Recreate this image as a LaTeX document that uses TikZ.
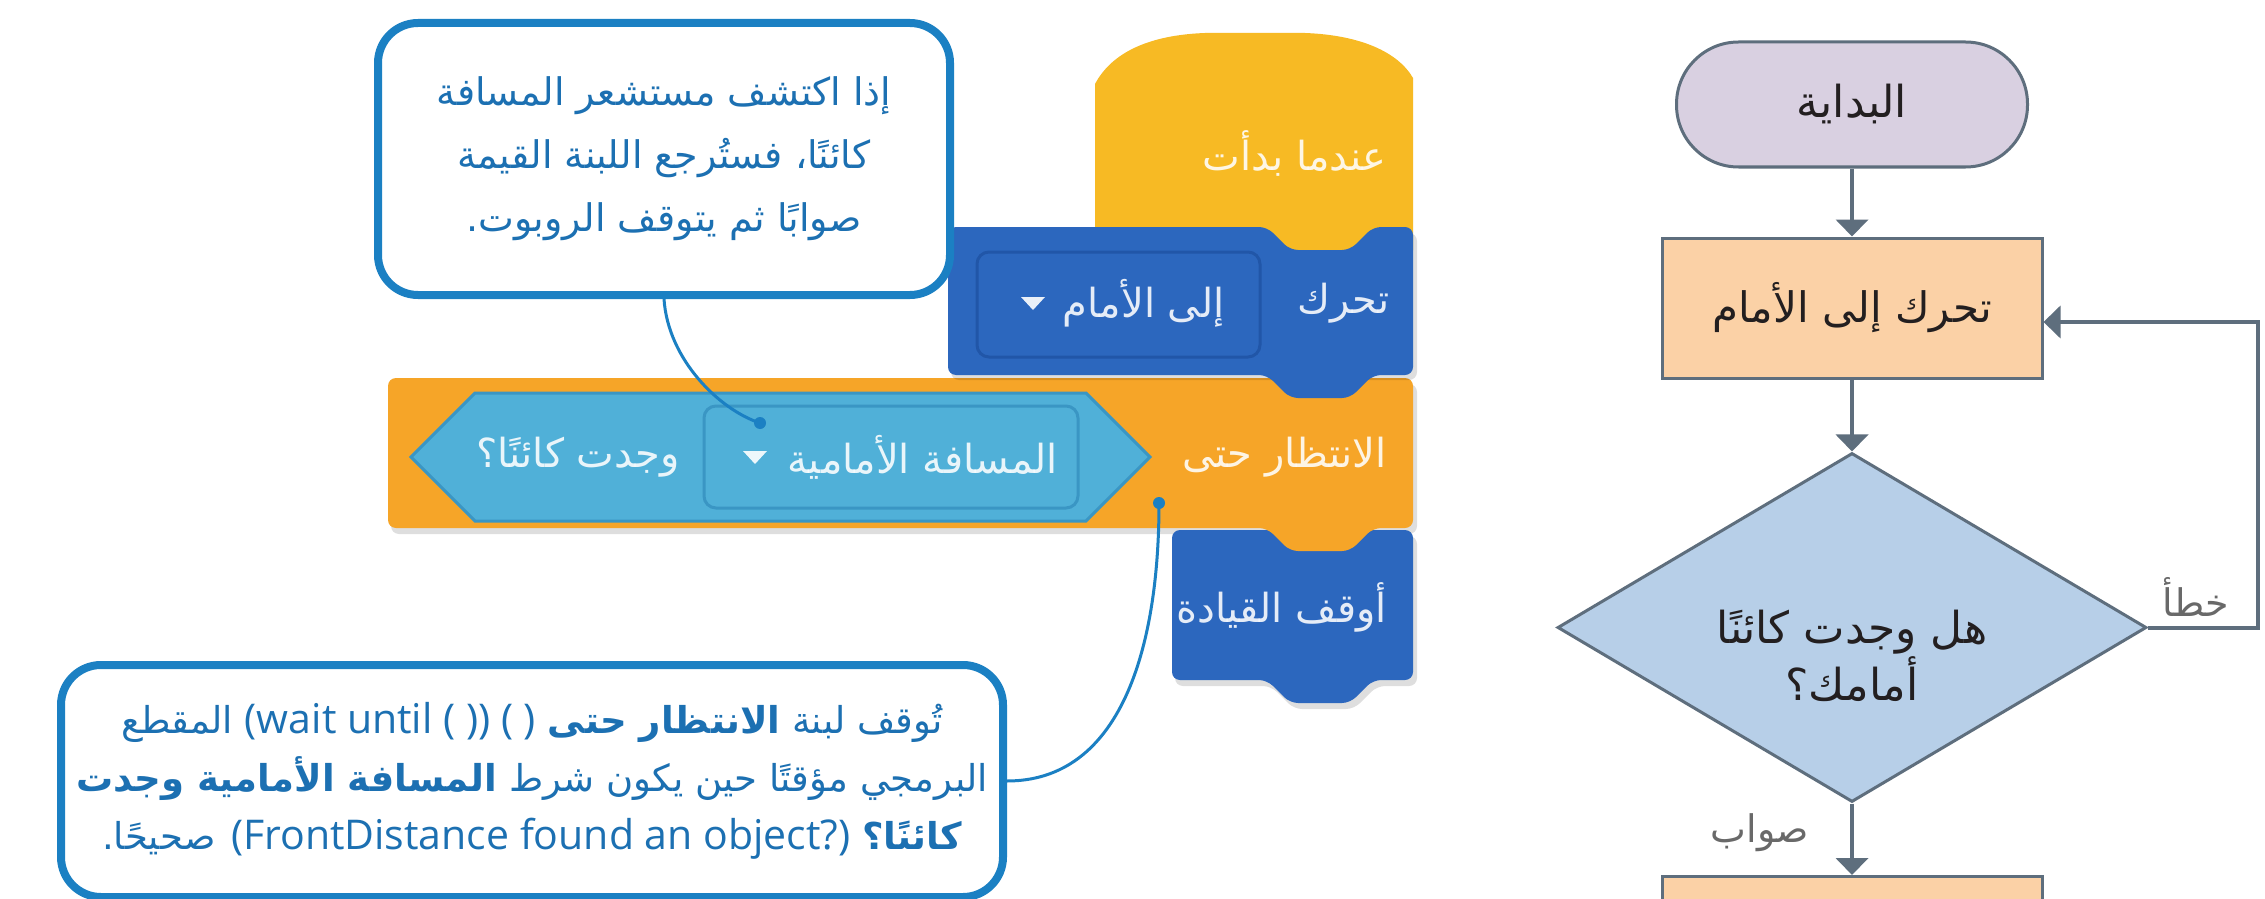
\documentclass[tikz,border=0pt]{standalone}
\usepackage{fontspec}
\setmainfont{Open Sans}
\newfontfamily\arabicfont[Script=Arabic]{DejaVu Sans}
\newfontfamily\latinfont{Open Sans}
\TeXXeTstate=1
\usetikzlibrary{shapes.geometric,arrows.meta,calc}
\newcommand{\artxt}[1]{\beginR #1\endR}
\newcommand{\lttxt}[1]{\beginL{\latinfont\fontsize{20.5}{29}\selectfont #1}\endL}
\definecolor{calloutblue}{RGB}{27,128,195}
\definecolor{callouttext}{RGB}{28,112,178}
\definecolor{hatyellow}{RGB}{247,186,36}
\definecolor{motionblue}{RGB}{44,103,190}
\definecolor{motionedge}{RGB}{33,86,168}
\definecolor{ctrlorange}{RGB}{246,165,40}
\definecolor{sensecyan}{RGB}{80,176,216}
\definecolor{senseedge}{RGB}{58,150,196}
\definecolor{flowline}{RGB}{94,110,125}
\definecolor{termfill}{RGB}{217,208,225}
\definecolor{procfill}{RGB}{251,209,166}
\definecolor{decfill}{RGB}{183,207,232}
\definecolor{labelgray}{RGB}{105,105,105}
\definecolor{nodetext}{RGB}{35,31,32}
\tikzset{
  callout/.style={draw=calloutblue, line width=4pt, rounded corners=20pt, fill=white, align=center, text=callouttext, inner sep=0pt},
  conn/.style={draw=calloutblue, line width=1.5pt},
  dotnode/.style={circle, fill=calloutblue, inner sep=0pt, minimum size=6pt},
  blocktext/.style={text=white, text opacity=0.88, font=\arabicfont\fontsize{20}{24}\selectfont, inner sep=0pt},
  blockshadow/.style={fill=black, fill opacity=0.13},
  flownode/.style={draw=flowline, line width=1.5pt, inner sep=0pt},
  flowtext/.style={text=nodetext, font=\arabicfont\fontsize{21}{27}\selectfont, align=center, inner sep=0pt},
  flow/.style={draw=flowline, line width=2pt, -{Triangle[width=16pt,length=8.5pt]}},
  edgelabel/.style={text=labelgray, font=\arabicfont\fontsize{19}{24}\selectfont, inner sep=0pt}
}
\begin{document}
\begin{tikzpicture}[x=0.5pt, y=-0.5pt]
\useasboundingbox (0,0) rectangle (2265,899);
\fill[white] (0,0) rectangle (2265,899);

% ---------- Scratch blocks ----------
\fill[hatyellow] (1095,250) -- (1095,84) .. controls (1112,52) and (1150,35) .. (1205,33) -- (1305,33) .. controls (1360,35) and (1398,52) .. (1413,78) -- (1413,250) -- cycle;
% shadows
\fill[blockshadow, rounded corners=4pt] (1175,536) -- (1417,536) -- (1417,686) -- (1377,686) -- (1354,709) -- (1294,709) -- (1271,686) -- (1175,686) -- cycle;
\fill[blockshadow, rounded corners=4pt] (391,384) -- (1417,384) -- (1417,534) -- (391,534) -- cycle;
% blue block 2
\fill[motionblue, rounded corners=4pt] (1172,530) -- (1413,530) -- (1413,680) -- (1373,680) -- (1350,703) -- (1290,703) -- (1267,680) -- (1172,680) -- cycle;
% orange block
\fill[ctrlorange, rounded corners=4pt] (388,378) -- (1413,378) -- (1413,528) -- (1373,528) -- (1350,551) -- (1290,551) -- (1267,528) -- (388,528) -- cycle;
% blue block 1
\fill[blockshadow, rounded corners=4pt] (951,233) -- (1270,233) -- (1293,256) -- (1353,256) -- (1376,233) -- (1417,233) -- (1417,380) -- (951,380) -- cycle;
\fill[motionblue, rounded corners=4pt] (948,227) -- (1267,227) -- (1290,250) -- (1350,250) -- (1373,227) -- (1413,227) -- (1413,375) -- (1373,375) -- (1350,398) -- (1290,398) -- (1267,375) -- (948,375) -- cycle;
\draw[motionedge, line width=1.5pt, fill=motionblue, rounded corners=6pt] (977,252) rectangle (1260,357);
\fill[white, opacity=0.9] (1021,297) -- (1045,297) -- (1033,310) -- cycle;
% boolean reporter
\draw[senseedge, line width=1.5pt, fill=sensecyan] (411,457) -- (475,393) -- (1086,393) -- (1150,457) -- (1086,521) -- (475,521) -- cycle;
\draw[senseedge, line width=1.5pt, fill=sensecyan, rounded corners=6pt] (704,406) rectangle (1078,508);
\fill[white, opacity=0.9] (743,451) -- (767,451) -- (755,464) -- cycle;

\node[blocktext, anchor=east] (tb0) at (1387,153) {\artxt{عندما بدأت}};
\node[blocktext, anchor=east] (tb1) at (1390,303) {\artxt{تحرك}};
\node[blocktext, anchor=east] (tb1d) at (1225,303) {\artxt{إلى الأمام}};
\node[blocktext, anchor=east] (tb2) at (1387,457) {\artxt{الانتظار حتى}};
\node[blocktext, anchor=east] (tb2d) at (1058,457) {\artxt{المسافة الأمامية}};
\node[blocktext] (tb2b) at (578,457) {\artxt{وجدت كائنًا؟}};
\node[blocktext, anchor=east] (tb3) at (1387,607) {\artxt{أوقف القيادة}};

% ---------- Callouts ----------
\node[callout, minimum width=286pt, minimum height=136pt, font=\arabicfont\fontsize{19}{31.5}\selectfont] (c1) at (664,159)
  {\artxt{إذا اكتشف مستشعر المسافة}\\\artxt{كائنًا، فستُرجع اللبنة القيمة}\\\artxt{صوابًا ثم يتوقف الروبوت.}};
\node[callout, anchor=east, minimum width=471pt, minimum height=116pt, font=\arabicfont\fontsize{18.5}{29}\selectfont] (c2) at (1007,781)
  {\artxt{تُوقف لبنة \textbf{الانتظار حتى} \lttxt{(wait until ( )) ( )} المقطع}\\
   \artxt{البرمجي مؤقتًا حين يكون شرط \textbf{المسافة الأمامية وجدت}}\\
   \artxt{\textbf{كائنًا؟} \lttxt{(FrontDistance found an object?)} صحيحًا.}};
\node[dotnode] (d1) at (760,423) {};
\node[dotnode] (d2) at (1159,503) {};
\draw[conn] (c1.south) .. controls (668,360) and (720,410) .. (d1.center);
\draw[conn] (c2.east) .. controls (1120,781) and (1159,650) .. (d2.center);

% ---------- Flowchart ----------
\node[flownode, fill=termfill, rounded corners=31pt, minimum width=175.5pt, minimum height=62.5pt] (t) at (1852,104.5) {};
\node[flowtext, font=\arabicfont\fontsize{22}{27}\selectfont] (tt) at (t) {\artxt{البداية}};
\node[flownode, fill=procfill, minimum width=190pt, minimum height=70pt] (r1) at (1852,308) {};
\node[flowtext] (r1t) at (r1) {\artxt{تحرك إلى الأمام}};
\node[flownode, diamond, fill=decfill, minimum width=294.5pt, minimum height=174.5pt] (q) at (1852,627.5) {};
\node[flowtext, font=\arabicfont\fontsize{22}{27}\selectfont] (qt) at (1852,656) {\artxt{هل وجدت كائنًا}\\\artxt{أمامك؟}};
\node[flownode, fill=procfill, minimum width=190pt, minimum height=50pt, anchor=north] (r2) at (1852,875) {};

\draw[flow] (t) -- (r1);
\draw[flow] (r1) -- (q);
\draw[flow] (q) -- (r2);
\draw[flow] (q.east) -- ++(110,0) |- ($(r1.east)+(0,14)$);
\node[edgelabel] (lf) at (2196,597) {\artxt{خطأ}};
\node[edgelabel] (lt) at (1760,833) {\artxt{صواب}};
\end{tikzpicture}
\end{document}
